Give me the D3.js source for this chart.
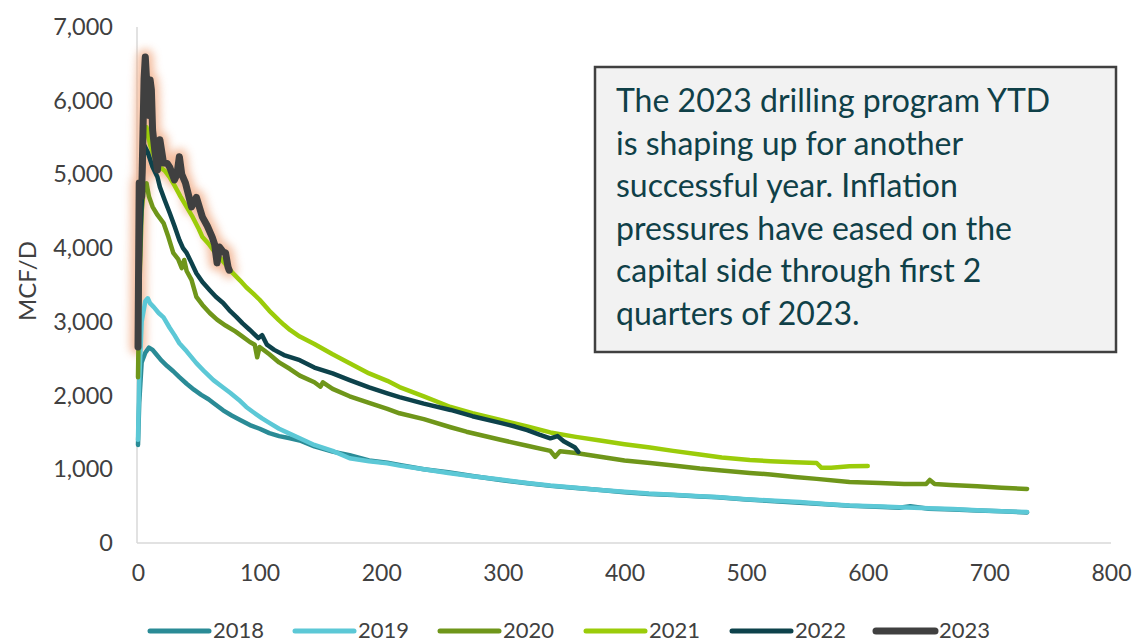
<!DOCTYPE html>
<html><head><meta charset="utf-8">
<script src="https://cdn.jsdelivr.net/npm/d3@7"></script>
<style>
html,body{margin:0;padding:0;background:#fff;}
svg{display:block;font-family:Lato,"Open Sans",sans-serif;}
</style></head>
<body>
<svg id="chart" width="1135" height="644"></svg>
<script>
// ---------- DATA ----------
const seriesNames = ["2018","2019","2020","2021","2022","2023"];
const seriesColors = ["#2A8B96","#5CC8D6","#6F961A","#9BCC0A","#0D424B","#404040"];

const days2018 = [0,1,3,6,9,12,15,19,24,29,34,40,46,52,58,62,70,77,84,92,100,108,116,125,133,145,160,174,190,205,215,235,255,275,298,320,339,360,380,400,420,440,462,476,500,520,544,565,585,612,626,635,650,670,690,710,731];
const mcf2018  = [1330,1900,2450,2580,2650,2620,2560,2480,2400,2330,2250,2160,2080,2010,1950,1900,1800,1730,1670,1600,1550,1490,1450,1420,1390,1310,1240,1190,1120,1090,1060,1000,960,910,855,810,775,745,720,690,665,650,630,620,590,570,545,525,505,490,478,500,465,455,440,430,415];

const days2019 = [0,1,3,6,8,10,13,17,21,26,30,34,40,48,55,62,70,76,83,89,96,102,108,116,125,133,145,160,174,190,205,215,235,255,275,298,320,339,360,380,400,420,440,462,476,500,520,544,565,585,612,626,650,670,690,710,731];
const mcf2019  = [1400,2200,3000,3280,3320,3250,3200,3120,3060,2920,2820,2710,2600,2440,2320,2210,2110,2035,1940,1845,1760,1690,1630,1550,1480,1420,1330,1250,1150,1110,1080,1050,1000,950,905,860,815,780,750,720,695,670,655,635,625,595,575,555,530,510,495,485,470,460,445,430,420];

const days2020 = [0,1,3,5,7,9,12,16,21,25,29,33,36,38,40,44,48,53,59,65,72,80,86,92,96,98,100,108,116,125,133,145,150,152,160,174,190,205,215,235,257,270,298,320,339,343,347,360,380,400,421,440,462,480,503,520,540,558,585,610,630,648,651,655,668,690,710,731];
const mcf2020  = [2250,3400,4500,4850,4880,4700,4560,4450,4340,4150,3935,3850,3730,3840,3690,3570,3340,3230,3120,3030,2950,2870,2800,2727,2690,2520,2660,2560,2450,2360,2270,2180,2120,2180,2090,1990,1900,1820,1760,1680,1570,1510,1400,1320,1250,1170,1245,1220,1170,1120,1085,1050,1010,985,950,930,895,870,828,815,800,800,855,800,787,770,750,733];

const days2021 = [0,2,5,7,10,14,18,22,26,30,35,40,45,50,53,58,63,67,72,78,84,89,95,100,108,116,120,125,133,145,160,174,190,205,215,235,257,275,298,320,339,360,380,400,421,440,462,480,503,520,540,558,562,570,585,600];
const mcf2021  = [3300,4800,5500,5640,5400,5200,5100,5050,4965,4850,4700,4560,4420,4260,4150,4060,3950,3880,3780,3660,3560,3470,3380,3300,3150,3020,2960,2890,2800,2700,2560,2440,2300,2200,2115,1990,1845,1760,1670,1580,1500,1440,1390,1340,1295,1250,1200,1160,1126,1110,1095,1085,1020,1020,1040,1045];

const days2022 = [0,2,5,8,12,16,18,22,26,30,34,37,40,44,48,53,59,64,70,75,81,86,92,99,102,106,112,120,133,145,160,174,190,205,215,235,257,275,298,310,320,330,339,345,350,359,362];
const mcf2022  = [2650,4200,5400,5300,5100,4965,4830,4650,4480,4300,4110,4000,3935,3800,3660,3540,3430,3340,3255,3160,3065,2980,2890,2780,2820,2690,2620,2550,2480,2380,2300,2210,2110,2030,1980,1890,1805,1720,1630,1580,1530,1470,1420,1450,1380,1300,1235];

const days2023 = [0,1,3,5,6,7,8,9,10,11,12,14,16,18,21,24,26,30,32,34,36,39,44,48,53,57,61,63,65,67,70,72,74,75];
const mcf2023  = [2660,4885,4700,6300,6594,6300,6240,5800,6280,6150,5600,5300,5060,5470,5155,5150,5100,4925,5000,5240,5000,4885,4560,4690,4420,4300,4150,4050,3800,4015,3950,3935,3745,3700];

const yTicks = [0,1000,2000,3000,4000,5000,6000,7000];
const xTicks = [0,100,200,300,400,500,600,700,800];
const yTitle = "MCF/D";
const noteLines = ["The 2023 drilling program YTD","is shaping up for another","successful year. Inflation","pressures have eased on the","capital side through first 2","quarters of 2023."];

// ---------- CHART ----------
const allDays = [days2018,days2019,days2020,days2021,days2022,days2023];
const allVals = [mcf2018,mcf2019,mcf2020,mcf2021,mcf2022,mcf2023];
const series = seriesNames.map((n,i)=>({name:n,color:seriesColors[i],
  pts: allDays[i].map((d,j)=>({x:d,y:allVals[i][j]}))}));

const svg = d3.select("#chart");
const x = d3.scaleLinear().domain([0,800]).range([138,1111]);
const y = d3.scaleLinear().domain([0,7000]).range([543,27]);

const defs = svg.append("defs");
const f = defs.append("filter").attr("id","glow").attr("x","-50%").attr("y","-50%").attr("width","200%").attr("height","200%");
f.append("feGaussianBlur").attr("stdDeviation",4);

// axes lines
svg.append("line").attr("x1",x(0)-1).attr("x2",x(0)-1).attr("y1",y(7000)).attr("y2",y(0))
  .attr("stroke","#D9D9D9").attr("stroke-width",1.5);
svg.append("line").attr("x1",x(0)-1).attr("x2",x(800)).attr("y1",y(0)).attr("y2",y(0))
  .attr("stroke","#D9D9D9").attr("stroke-width",1.5);

// y tick labels
const yAxis = d3.axisLeft(y).tickValues(yTicks).tickFormat(d3.format(",")).tickSize(0).tickPadding(0);
const gy = svg.append("g").attr("transform","translate(113,0)").call(yAxis);
gy.select(".domain").remove();
gy.selectAll("text").attr("font-size",23.5).attr("fill","#404040").attr("font-family","Lato, 'Open Sans', sans-serif");

// x tick labels
const xAxis = d3.axisBottom(x).tickValues(xTicks).tickFormat(d3.format("d")).tickSize(0).tickPadding(0);
const gx = svg.append("g").attr("transform","translate(0,565)").call(xAxis);
gx.select(".domain").remove();
gx.selectAll("text").attr("font-size",23).attr("fill","#404040").attr("font-family","Lato, 'Open Sans', sans-serif");

// y title
svg.append("text").attr("transform","translate(36,281) rotate(-90)").attr("text-anchor","middle")
  .attr("font-size",24).attr("fill","#404040").text(yTitle);

const line = d3.line().x(d=>x(d.x)).y(d=>y(d.y)).curve(d3.curveLinear);

// glow behind 2023
const s23 = series[5];
svg.append("path").datum(s23.pts).attr("d",line).attr("fill","none")
  .attr("stroke","#F0A880").attr("stroke-width",16).attr("stroke-linejoin","round").attr("stroke-linecap","round")
  .attr("opacity",0.75).attr("filter","url(#glow)");

series.forEach((s,i)=>{
  svg.append("path").datum(s.pts).attr("d",line).attr("fill","none")
    .attr("stroke",s.color).attr("stroke-width", i===5?7:4.5)
    .attr("stroke-linejoin","round").attr("stroke-linecap","round");
});

// note box
svg.append("rect").attr("x",595).attr("y",67).attr("width",521).attr("height",285)
  .attr("fill","#F2F2F2").attr("stroke","#404040").attr("stroke-width",2.5);
const nt = svg.append("text").attr("font-size",32).attr("fill","#0F4048");
noteLines.forEach((l,i)=>{
  nt.append("tspan").attr("x",616).attr("y",112+i*42.5).text(l);
});

// legend
const legX = [150,295,440,586,732,876];
const lg = svg.append("g");
series.forEach((s,i)=>{
  const g = lg.append("g").attr("transform",`translate(${legX[i]},631)`);
  g.append("line").attr("x1",0).attr("x2",59).attr("y1",0).attr("y2",0)
    .attr("stroke",s.color).attr("stroke-width",i===5?7:5).attr("stroke-linecap","round");
  g.append("text").attr("x",63).attr("y",7).attr("font-size",22).attr("fill","#404040").text(s.name);
});
</script>
</body></html>
